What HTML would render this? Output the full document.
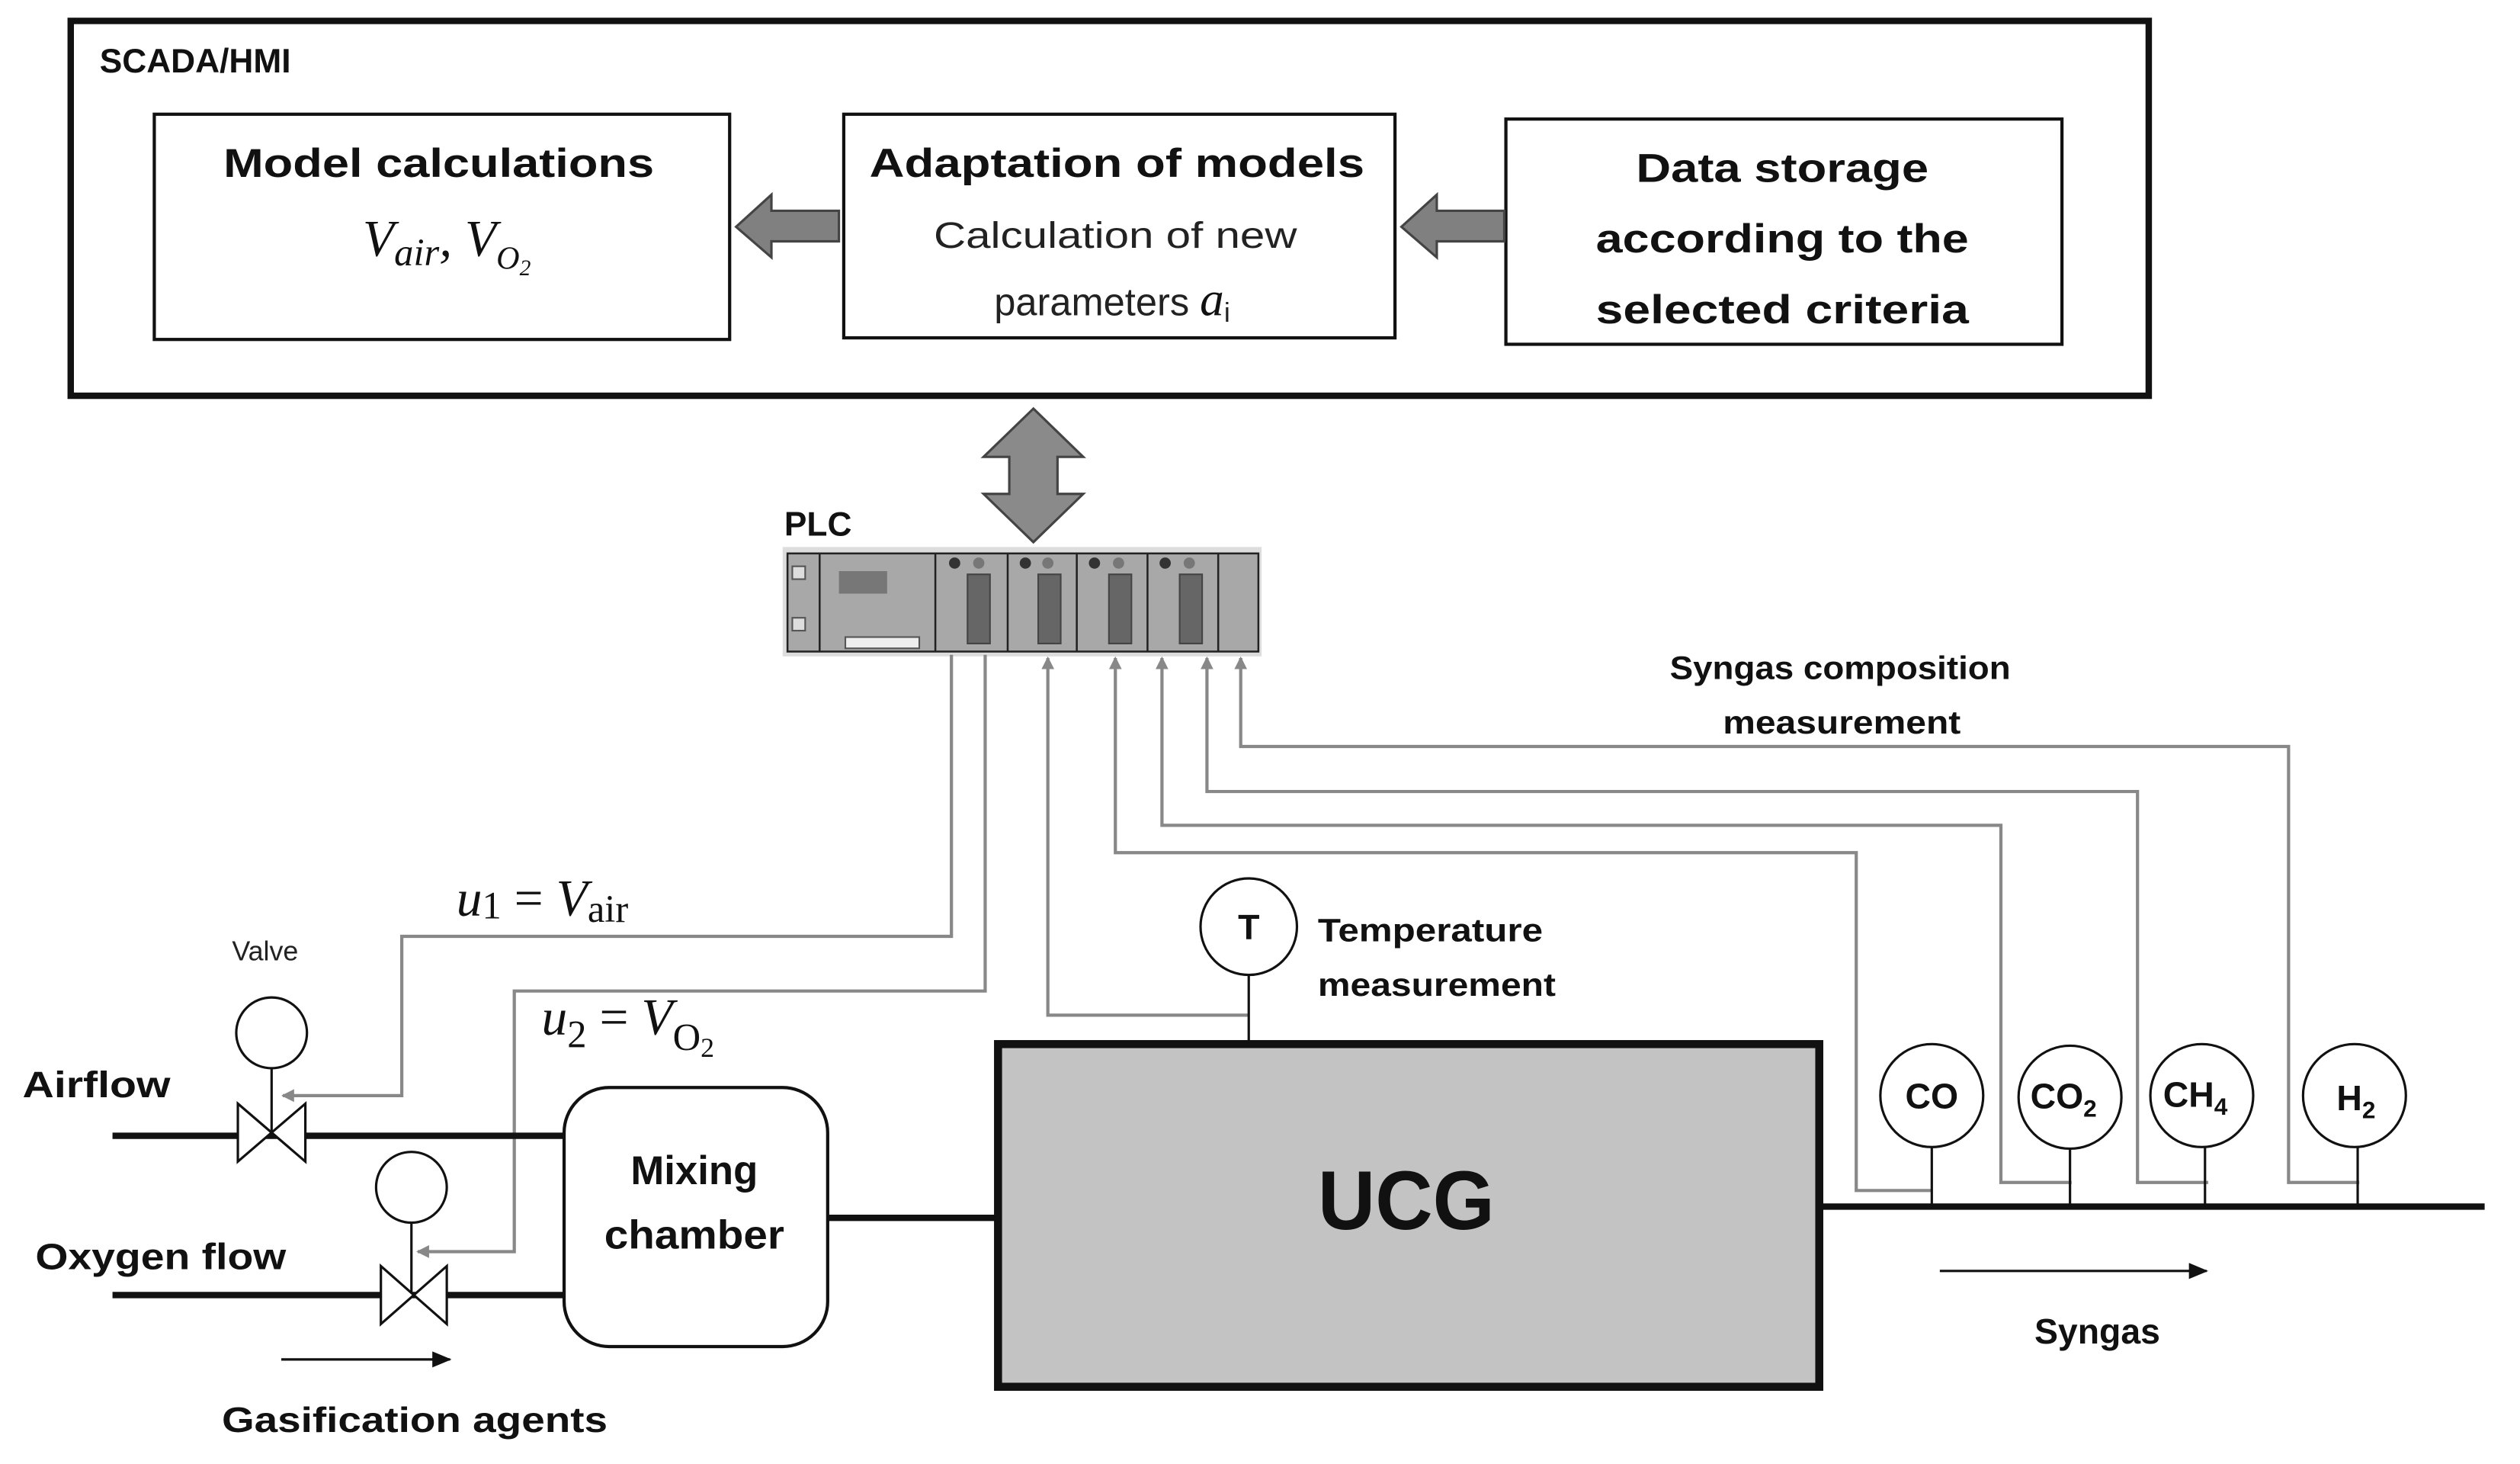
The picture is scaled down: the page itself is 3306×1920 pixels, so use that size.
<!DOCTYPE html>
<html><head><meta charset="utf-8"><style>
html,body{margin:0;padding:0;background:#fff;}
svg{display:block;}
.b{font-family:"Liberation Sans",sans-serif;font-weight:bold;fill:#111;}
.r{font-family:"Liberation Sans",sans-serif;fill:#222;}
.m{font-family:"Liberation Serif",serif;font-style:italic;fill:#111;}
</style></head><body>
<svg width="3306" height="1920" viewBox="0 0 1568 910" preserveAspectRatio="none" xmlns="http://www.w3.org/2000/svg">
<defs>
<marker id="ga" markerWidth="8" markerHeight="8" refX="7" refY="4" orient="auto" markerUnits="userSpaceOnUse"><path d="M0,0 L8,4 L0,8 z" fill="#888"/></marker>
<marker id="ka" markerWidth="12" markerHeight="10" refX="11" refY="5" orient="auto" markerUnits="userSpaceOnUse"><path d="M0,0 L12,5 L0,10 z" fill="#111"/></marker>
</defs>
<rect x="44" y="13" width="1293" height="233" fill="#fff" stroke="#111" stroke-width="4"/>
<text x="62" y="45" class="b" font-size="21">SCADA/HMI</text>
<rect x="96" y="71" width="358" height="140" fill="#fff" stroke="#111" stroke-width="2"/>
<text x="273" y="110" class="b" font-size="25" text-anchor="middle" textLength="268" lengthAdjust="spacingAndGlyphs">Model calculations</text>
<text x="278" y="159" class="m" font-size="32" text-anchor="middle">V<tspan font-size="24" dy="6">air</tspan><tspan dy="-6">, V</tspan><tspan font-size="20" dy="8">O</tspan><tspan font-size="14" dy="4">2</tspan></text>
<rect x="525" y="71" width="343" height="139" fill="#fff" stroke="#111" stroke-width="2"/>
<text x="695" y="110" class="b" font-size="25" text-anchor="middle" textLength="308" lengthAdjust="spacingAndGlyphs">Adaptation of models</text>
<text x="694" y="154" class="r" font-size="23" text-anchor="middle" textLength="226" lengthAdjust="spacingAndGlyphs">Calculation of new</text>
<text x="692" y="196" class="r" font-size="24" text-anchor="middle">parameters <tspan class="m" font-size="30">a</tspan><tspan class="r" font-size="17" dy="4">i</tspan></text>
<rect x="937" y="74" width="346" height="140" fill="#fff" stroke="#111" stroke-width="2"/>
<text x="1109" y="113" class="b" font-size="25" text-anchor="middle" textLength="182" lengthAdjust="spacingAndGlyphs">Data storage</text>
<text x="1109" y="157" class="b" font-size="25" text-anchor="middle" textLength="232" lengthAdjust="spacingAndGlyphs">according to the</text>
<text x="1109" y="201" class="b" font-size="25" text-anchor="middle" textLength="232" lengthAdjust="spacingAndGlyphs">selected criteria</text>
<path d="M522,131 L480,131 L480,121 L458,141 L480,160 L480,150 L522,150 z" fill="#808080" stroke="#444" stroke-width="1.5"/>
<path d="M936,131 L894,131 L894,121 L872,141 L894,160 L894,150 L936,150 z" fill="#808080" stroke="#444" stroke-width="1.5"/>
<path d="M643,254 L674,284 L658,284 L658,307 L674,307 L643,337 L612,307 L628,307 L628,284 L612,284 z" fill="#8a8a8a" stroke="#444" stroke-width="1.5"/>
<text x="488" y="333" class="b" font-size="21">PLC</text>
<rect x="487" y="340" width="298" height="68" fill="#ddd"/>
<rect x="490" y="344" width="293" height="61" fill="#a8a8a8" stroke="#222" stroke-width="1.2"/>
<g stroke="#222" stroke-width="1.2"><line x1="510" y1="344" x2="510" y2="405"/><line x1="582" y1="344" x2="582" y2="405"/><line x1="627" y1="344" x2="627" y2="405"/><line x1="670" y1="344" x2="670" y2="405"/><line x1="714" y1="344" x2="714" y2="405"/><line x1="758" y1="344" x2="758" y2="405"/></g>
<rect x="493" y="352" width="8" height="8" fill="#ddd" stroke="#555"/><rect x="493" y="384" width="8" height="8" fill="#ddd" stroke="#555"/>
<rect x="522" y="355" width="30" height="14" fill="#777"/><rect x="526" y="396" width="46" height="7" fill="#eee" stroke="#555"/>
<g fill="#666" stroke="#444"><rect x="602" y="357" width="14" height="43"/><rect x="646" y="357" width="14" height="43"/><rect x="690" y="357" width="14" height="43"/><rect x="734" y="357" width="14" height="43"/></g>
<g fill="#333"><circle cx="594" cy="350" r="3.5"/><circle cx="638" cy="350" r="3.5"/><circle cx="681" cy="350" r="3.5"/><circle cx="725" cy="350" r="3.5"/></g>
<g fill="#777"><circle cx="609" cy="350" r="3.5"/><circle cx="652" cy="350" r="3.5"/><circle cx="696" cy="350" r="3.5"/><circle cx="740" cy="350" r="3.5"/></g>
<g fill="none" stroke="#888" stroke-width="2">
<polyline points="592,407 592,582 250,582 250,681 176,681" marker-end="url(#ga)"/>
<polyline points="613,407 613,616 320,616 320,778 260,778" marker-end="url(#ga)"/>
<polyline points="777,631 652,631 652,409" marker-end="url(#ga)"/>
<polyline points="1202,740 1155,740 1155,530 694,530 694,409" marker-end="url(#ga)"/>
<polyline points="1289,735 1245,735 1245,513 723,513 723,409" marker-end="url(#ga)"/>
<polyline points="1374,735 1330,735 1330,492 751,492 751,409" marker-end="url(#ga)"/>
<polyline points="1468,735 1424,735 1424,464 772,464 772,409" marker-end="url(#ga)"/>
</g>
<text x="1145" y="422" class="b" font-size="20" text-anchor="middle" textLength="212" lengthAdjust="spacingAndGlyphs">Syngas composition</text>
<text x="1146" y="456" class="b" font-size="20" text-anchor="middle" textLength="148" lengthAdjust="spacingAndGlyphs">measurement</text>
<text x="284" y="569" class="m" font-size="32">u<tspan font-style="normal" font-size="24" dy="2">1</tspan><tspan font-style="normal" dy="-2"> = </tspan>V<tspan font-style="normal" font-size="24" dy="4">air</tspan></text>
<text x="337" y="643" class="m" font-size="32">u<tspan font-style="normal" font-size="24" dy="8">2</tspan><tspan font-style="normal" dy="-8"> = </tspan>V<tspan font-style="normal" font-size="24" dy="10">O</tspan><tspan font-style="normal" font-size="17" dy="4">2</tspan></text>
<g stroke="#111" stroke-width="4"><line x1="70" y1="706" x2="351" y2="706"/><line x1="70" y1="805" x2="351" y2="805"/><line x1="515" y1="757" x2="620" y2="757"/><line x1="1132" y1="750" x2="1546" y2="750"/></g>
<text x="165" y="597" class="r" font-size="17" text-anchor="middle">Valve</text>
<circle cx="169" cy="642" r="22" fill="#fff" stroke="#111" stroke-width="1.5"/>
<line x1="169" y1="664" x2="169" y2="704" stroke="#111" stroke-width="1.5"/>
<path d="M148,686 L190,722 L190,686 L148,722 z" fill="#fff" stroke="#111" stroke-width="1.5"/>
<circle cx="256" cy="738" r="22" fill="#fff" stroke="#111" stroke-width="1.5"/>
<line x1="256" y1="760" x2="256" y2="805" stroke="#111" stroke-width="1.5"/>
<path d="M237,787 L278,823 L278,787 L237,823 z" fill="#fff" stroke="#111" stroke-width="1.5"/>
<text x="14" y="682" class="b" font-size="23" textLength="92" lengthAdjust="spacingAndGlyphs">Airflow</text>
<text x="22" y="789" class="b" font-size="23" textLength="156" lengthAdjust="spacingAndGlyphs">Oxygen flow</text>
<line x1="175" y1="845" x2="280" y2="845" stroke="#111" stroke-width="1.5" marker-end="url(#ka)"/>
<text x="258" y="890" class="b" font-size="22" text-anchor="middle" textLength="240" lengthAdjust="spacingAndGlyphs">Gasification agents</text>
<rect x="351" y="676" width="164" height="161" rx="28" fill="#fff" stroke="#111" stroke-width="2"/>
<text x="432" y="736" class="b" font-size="25" text-anchor="middle">Mixing</text>
<text x="432" y="776" class="b" font-size="25" text-anchor="middle" textLength="112" lengthAdjust="spacingAndGlyphs">chamber</text>
<rect x="621" y="649" width="511" height="213" fill="#c3c3c3" stroke="#111" stroke-width="5"/>
<text x="875" y="764" class="b" font-size="52" text-anchor="middle" textLength="110" lengthAdjust="spacingAndGlyphs">UCG</text>
<line x1="777" y1="606" x2="777" y2="648" stroke="#111" stroke-width="1.5"/>
<circle cx="777" cy="576" r="30" fill="#fff" stroke="#111" stroke-width="1.5"/>
<text x="777" y="584" class="b" font-size="22" text-anchor="middle">T</text>
<text x="820" y="585" class="b" font-size="20" textLength="140" lengthAdjust="spacingAndGlyphs">Temperature</text>
<text x="820" y="619" class="b" font-size="20" textLength="148" lengthAdjust="spacingAndGlyphs">measurement</text>
<g stroke="#111" stroke-width="1.5" fill="#fff">
<line x1="1202" y1="713" x2="1202" y2="750"/><line x1="1288" y1="713" x2="1288" y2="750"/><line x1="1372" y1="713" x2="1372" y2="750"/><line x1="1467" y1="713" x2="1467" y2="750"/>
<circle cx="1202" cy="681" r="32"/><circle cx="1288" cy="682" r="32"/><circle cx="1370" cy="681" r="32"/><circle cx="1465" cy="681" r="32"/>
</g>
<text x="1202" y="689" class="b" font-size="22" text-anchor="middle">CO</text>
<text x="1284" y="689" class="b" font-size="22" text-anchor="middle">CO<tspan font-size="15" dy="5">2</tspan></text>
<text x="1366" y="688" class="b" font-size="22" text-anchor="middle">CH<tspan font-size="15" dy="5">4</tspan></text>
<text x="1466" y="690" class="b" font-size="22" text-anchor="middle">H<tspan font-size="15" dy="5">2</tspan></text>
<line x1="1207" y1="790" x2="1373" y2="790" stroke="#111" stroke-width="1.5" marker-end="url(#ka)"/>
<text x="1305" y="835" class="b" font-size="22" text-anchor="middle">Syngas</text>
</svg>
</body></html>
